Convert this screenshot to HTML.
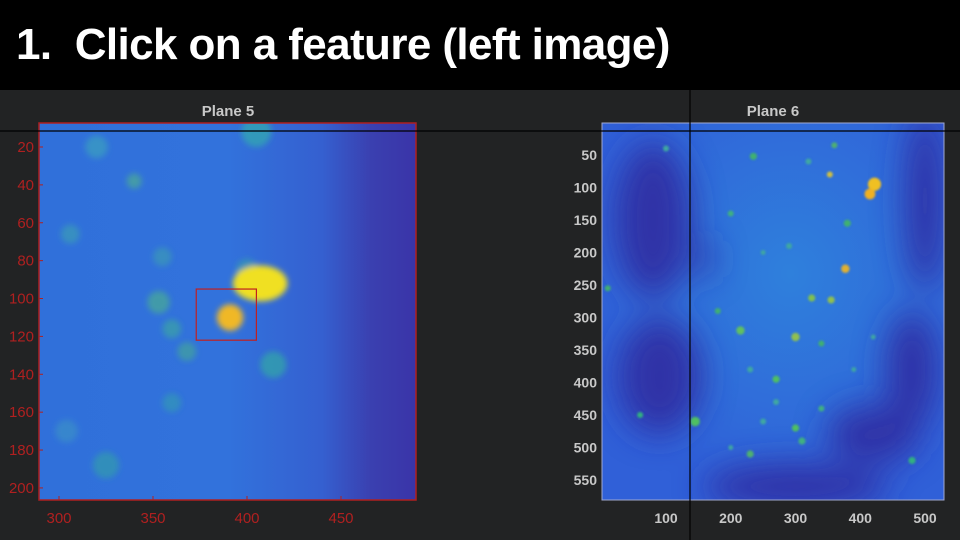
<!DOCTYPE html>
<html><head><meta charset="utf-8"><style>
body{margin:0;width:960px;height:540px;overflow:hidden;background:#222324;font-family:"Liberation Sans",sans-serif}
#hdr{position:absolute;left:0;top:0;width:960px;height:90px;background:#000}
#hdr h1{margin:0;position:absolute;left:16px;top:20px;color:#fff;font-size:44px;font-weight:bold;letter-spacing:-0.6px;white-space:nowrap}
svg{position:absolute;left:0;top:0}
</style></head><body>
<div id="hdr"><h1>1.&nbsp; Click on a feature (left image)</h1></div>
<svg id="s" width="960" height="540">
<defs>
<filter id="bl" x="-50%" y="-50%" width="200%" height="200%"><feGaussianBlur stdDeviation="3"/></filter>
<filter id="bl2" x="-50%" y="-50%" width="200%" height="200%"><feGaussianBlur stdDeviation="1"/></filter>
<filter id="bb" x="-50%" y="-50%" width="200%" height="200%"><feGaussianBlur stdDeviation="16"/></filter>
<linearGradient id="lg" x1="0" x2="1"><stop offset="0" stop-color="#3070da"/><stop offset="0.5" stop-color="#3272dc"/><stop offset="0.75" stop-color="#3560d0"/><stop offset="0.88" stop-color="#3a40b0"/><stop offset="1" stop-color="#3a34a8"/></linearGradient>
<radialGradient id="rg" cx="0.55" cy="0.4" r="0.6"><stop offset="0" stop-color="#2f80dc"/><stop offset="1" stop-color="#3060d8"/></radialGradient>
<clipPath id="cl"><rect x="39" y="123" width="377" height="377"/></clipPath>
<clipPath id="cr"><rect x="602" y="123" width="342" height="377"/></clipPath>
</defs>
</svg>
<script>
// Left image (Plane 5): blobs in data coords [x, y, radius(data), color]
const leftBlobs=[[306,66,5,"#3a9ab8"],[320,20,6,"#3a9cc0"],[405,12,8,"#30a8b0"],[355,78,5,"#3b96b8"],[400,85,6,"#3498b0"],[340,38,4,"#4aa898"],[353,102,6,"#48a898"],[360,116,5,"#3aa0a8"],[368,128,5,"#40a0a0"],[414,135,7,"#30a4a8"],[360,155,5,"#3394b8"],[325,188,7,"#3098b0"],[304,170,6,"#3a8ec8"],[407,92,10,"#f0e020"],[391,110,7,"#f0b828"]];
const leftXTicks=[300,350,400,450];
const leftYTicks=[20,40,60,80,100,120,140,160,180,200];
// Right image (Plane 6)
const rightBlobs=[[422,95,11,"#f0c020"],[415,110,9,"#f0b020"],[377,225,7,"#e0b030"],[353,80,5,"#d0c040"],[300,330,7,"#90c050"],[325,270,6,"#80c050"],[355,273,6,"#90c050"],[145,460,8,"#50c060"],[300,470,6,"#50c060"],[215,320,7,"#60c060"],[270,395,6,"#50c060"],[235,52,6,"#40b070"],[360,35,5,"#50b070"],[230,510,6,"#50b070"],[380,155,6,"#40b070"],[340,340,5,"#40b070"],[60,450,5,"#30b080"],[480,520,6,"#30b080"],[10,255,5,"#40b070"],[180,290,5,"#40b070"],[250,460,5,"#40a8a0"],[310,490,6,"#40b080"],[200,140,5,"#40b080"],[320,60,5,"#40a8a0"],[270,430,5,"#40a8a0"],[250,200,4,"#40a8a0"],[390,380,4,"#40a8a0"],[420,330,4,"#40a8a0"],[230,380,5,"#40a8a0"],[100,40,5,"#40a8a0"],[340,440,5,"#40b080"],[200,500,4,"#40a8a0"],[290,190,5,"#40a8a0"]];
const rightXTicks=[100,200,300,400,500];
const rightYTicks=[50,100,150,200,250,300,350,400,450,500,550];
// dark regions [x, y, rx, ry] in data coords
const rightDark=[[80,150,60,120],[90,390,65,90],[500,120,30,140],[480,380,40,90],[420,480,70,45],[300,560,140,35],[160,210,12,30]];

const s=document.getElementById('s');
const NS='http://www.w3.org/2000/svg';
function mk(t,a,p){const e=document.createElementNS(NS,t);for(const k in a)e.setAttribute(k,a[k]);(p||s).appendChild(e);return e;}
const lx=v=>59+(v-300)*1.88, ly=v=>147+(v-20)*1.894;
const rx=v=>666+(v-100)*0.6475, ry=v=>155+(v-50)*0.65;

let t=mk('text',{x:228,y:116,fill:'#c8c8c8','font-size':15,'font-weight':'bold','text-anchor':'middle'});t.textContent='Plane 5';

t=mk('text',{x:773,y:116,fill:'#c8c8c8','font-size':15,'font-weight':'bold','text-anchor':'middle'});t.textContent='Plane 6';


// left image
const gl=mk('g',{'clip-path':'url(#cl)'});

mk('rect',{x:39,y:123,width:377,height:377,fill:'url(#lg)'},gl);
const gls=mk('g',{filter:'url(#bl)'},gl);
leftBlobs.forEach(b=>{const big=b[2]>=10;const c=mk('ellipse',{cx:lx(b[0]),cy:ly(b[1]),rx:b[2]*1.88*(big?1.45:1),ry:b[2]*1.894*(big?0.95:1),fill:b[3],opacity:big||b[2]==7&&b[3][1]=='f'?1:0.75},gls);
});
let r=mk('rect',{x:39,y:123,width:377,height:377,fill:'none',stroke:'#b02020','stroke-width':1.5});

r=mk('rect',{x:lx(373),y:ly(95),width:lx(405)-lx(373),height:ly(122)-ly(95),fill:'none',stroke:'#c02020','stroke-width':1.2});

leftXTicks.forEach(v=>{const e=mk('text',{x:lx(v),y:523,fill:'#b02020','font-size':15,'text-anchor':'middle'});e.textContent=v;

mk('line',{x1:lx(v),y1:500,x2:lx(v),y2:496,stroke:'#b02020'});});
leftYTicks.forEach(v=>{const e=mk('text',{x:34,y:ly(v)+5,fill:'#b02020','font-size':15,'text-anchor':'end'});e.textContent=v;

mk('line',{x1:39,y1:ly(v),x2:43,y2:ly(v),stroke:'#b02020'});});

// right image
const gr=mk('g',{'clip-path':'url(#cr)'});

mk('rect',{x:602,y:123,width:342,height:377,fill:'url(#rg)'},gr);
const gd=mk('g',{filter:'url(#bb)'},gr);
rightDark.forEach(d=>{const e=mk('ellipse',{cx:rx(d[0]),cy:ry(d[1]),rx:d[2]*0.65,ry:d[3]*0.65,fill:'#3030a4',opacity:0.95},gd);
});
const grs=mk('g',{filter:'url(#bl2)'},gr);
rightBlobs.forEach(b=>{const c=mk('circle',{cx:rx(b[0]),cy:ry(b[1]),r:b[2]*0.6,fill:b[3]},grs);
});
r=mk('rect',{x:602,y:123,width:342,height:377,fill:'none',stroke:'#a0a8d0','stroke-width':1});

rightXTicks.forEach(v=>{const e=mk('text',{x:rx(v),y:523,fill:'#c8c8c8','font-size':14,'font-weight':'bold','text-anchor':'middle'});e.textContent=v;
});
rightYTicks.forEach(v=>{const e=mk('text',{x:597,y:ry(v)+5,fill:'#c8c8c8','font-size':14,'font-weight':'bold','text-anchor':'end'});e.textContent=v;
});

let l=mk('line',{x1:0,y1:131,x2:960,y2:131,stroke:'#000','stroke-width':1.2});

l=mk('line',{x1:690,y1:90,x2:690,y2:540,stroke:'#000','stroke-width':1.2});

</script>
</body></html>
